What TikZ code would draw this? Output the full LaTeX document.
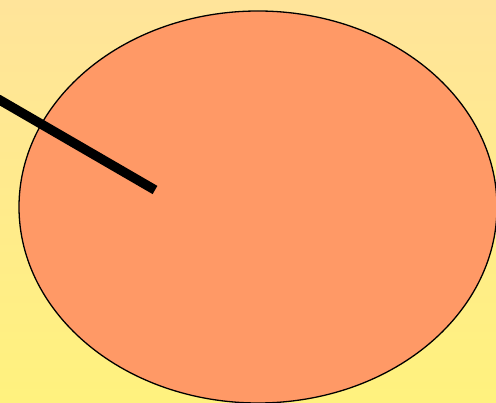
\documentclass[tikz,border=0pt]{standalone}
\usetikzlibrary{shapes.geometric}
\definecolor{bgtop}{HTML}{FFE49A}
\definecolor{bgbot}{HTML}{FFF27E}
\definecolor{ellfill}{HTML}{FF9966}
\begin{document}
\begin{tikzpicture}[x=1pt,y=-1pt,
  blob/.style={draw=black,line width=1.3pt,fill=ellfill},
  stick/.style={line width=9.5pt,line cap=butt,draw=black}]
\useasboundingbox (0,0) rectangle (496,403);
\shade[top color=bgtop,bottom color=bgbot] (0,0) rectangle (496,403);
\begin{scope}
\clip (0,0) rectangle (496,403);
\node[blob,ellipse,minimum width=478pt,minimum height=392pt,inner sep=0pt] (ell) at (258,207) {};
\end{scope}
\coordinate (s) at (-2,99);
\coordinate (e) at (155,190);
\draw[stick] (s) -- (e);
\end{tikzpicture}
\end{document}
